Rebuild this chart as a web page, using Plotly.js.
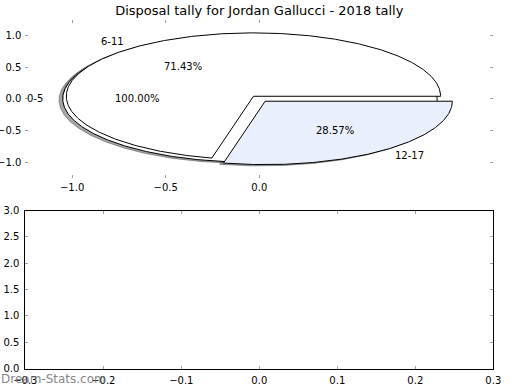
<!DOCTYPE html>
<html><head><meta charset="utf-8">
<script src="https://cdn.plot.ly/plotly-3.0.1.min.js"></script>
<style>html,body{margin:0;padding:0;background:#fff}</style>
</head><body><div id="chart" style="width:520px;height:390px"></div>
<script>
const titleText = 'Disposal tally for Jordan Gallucci - 2018 tally';
const pieALabels = ['0-5'];
const pieAValues = [7];
const pieAColors = ['#ffffff'];
const pieBLabels = ['6-11', '12-17'];
const pieBValues = [5, 2];
const pieBColors = ['#ffffff', '#e9effb'];
const pieXTicks = [-1.0, -0.5, 0.0];
const pieYTicks = [-1.0, -0.5, 0.0, 0.5, 1.0];
const emptyXTicks = [-0.3, -0.2, -0.1, 0.0, 0.1, 0.2, 0.3];
const emptyYTicks = [0.0, 0.5, 1.0, 1.5, 2.0, 2.5, 3.0];
const watermark = 'Dream-Stats.com';

const EXPLODE = 0.05, SHADOW = 0.02, LABEL_R = 1.1, PCT_R = 0.6;
const FONT = 'DejaVu Sans, sans-serif';

function wedges(values, colors, labels) {
  const total = values.reduce((a, b) => a + b, 0);
  let t = 0; const out = [];
  values.forEach((v, i) => {
    const frac = v / total;
    const t1 = t * 360, t2 = (t + frac) * 360;
    const mid = (t1 + t2) / 2 * Math.PI / 180;
    const cx = EXPLODE * Math.cos(mid), cy = EXPLODE * Math.sin(mid);
    const full = Math.abs(t2 - t1 - 360) < 1e-9;
    const n = Math.max(4, Math.ceil((t2 - t1) / 0.5));
    const xs = [], ys = [];
    if (!full) { xs.push(cx); ys.push(cy); }
    for (let k = 0; k <= n; k++) {
      const a = (t1 + (t2 - t1) * k / n) * Math.PI / 180;
      xs.push(cx + Math.cos(a)); ys.push(cy + Math.sin(a));
    }
    if (!full) { xs.push(cx); ys.push(cy); }
    out.push({ xs, ys, color: colors[i], label: labels[i], pct: frac * 100, cx, cy, mid });
    t += frac;
  });
  return out;
}

function shade(hex) {
  const r = parseInt(hex.slice(1, 3), 16), g = parseInt(hex.slice(3, 5), 16), b = parseInt(hex.slice(5, 7), 16);
  return 'rgba(' + Math.round(r * 0.3) + ',' + Math.round(g * 0.3) + ',' + Math.round(b * 0.3) + ',0.5)';
}

const wA = wedges(pieAValues, pieAColors, pieALabels);
const wB = wedges(pieBValues, pieBColors, pieBLabels);
const all = wA.concat(wB);

const traces = [];
all.forEach(w => {
  const sc = shade(w.color);
  traces.push({
    type: 'scatter', mode: 'lines', x: w.xs.map(v => v - SHADOW), y: w.ys.map(v => v - SHADOW),
    fill: 'toself', fillcolor: sc, line: { color: sc, width: 1 }, xaxis: 'x', yaxis: 'y',
    hoverinfo: 'skip', showlegend: false
  });
});
all.forEach(w => {
  traces.push({
    type: 'scatter', mode: 'lines', x: w.xs, y: w.ys,
    fill: 'toself', fillcolor: w.color, line: { color: '#000000', width: 1 }, xaxis: 'x', yaxis: 'y',
    hoverinfo: 'skip', showlegend: false
  });
});
// empty lower axes
traces.push({ type: 'scatter', mode: 'markers', x: [], y: [], xaxis: 'x2', yaxis: 'y2', showlegend: false });

const annotations = [];
all.forEach(w => {
  const lx = w.cx + LABEL_R * Math.cos(w.mid), ly = w.cy + LABEL_R * Math.sin(w.mid);
  annotations.push({
    xref: 'x', yref: 'y', x: lx, y: ly, text: w.label, showarrow: false,
    xanchor: lx > 0 ? 'left' : 'right', yanchor: 'middle', borderpad: 0,
    font: { family: FONT, size: 10, color: '#000' }
  });
  const px = w.cx + PCT_R * Math.cos(w.mid), py = w.cy + PCT_R * Math.sin(w.mid);
  annotations.push({
    xref: 'x', yref: 'y', x: px, y: py, text: w.pct.toFixed(2) + '%', showarrow: false,
    xanchor: 'center', yanchor: 'middle', borderpad: 0,
    font: { family: FONT, size: 10, color: '#000' }
  });
});
annotations.push({
  xref: 'paper', yref: 'paper', x: 0, y: (390 - 379) / 390, xanchor: 'left', yanchor: 'middle',
  text: watermark, showarrow: false, borderpad: 0,
  font: { family: FONT, size: 12, color: 'rgba(110,110,110,0.85)' }
});

const W = 520, H = 390;
const xDom = [25.3 / W, 493.3 / W];
const tickCommon = {
  ticks: 'inside', ticklen: 3, tickwidth: 1, tickcolor: '#a0a0a0', showgrid: false, zeroline: false,
  tickfont: { family: FONT, size: 10, color: '#000' }, tickformat: '.1f', fixedrange: true
};

const layout = {
  width: W, height: H, margin: { l: 0, r: 0, t: 0, b: 0 },
  paper_bgcolor: '#ffffff', plot_bgcolor: '#ffffff',
  title: { text: titleText, x: 259.3 / W, xanchor: 'center', y: 1 - 10 / H, yanchor: 'middle',
    font: { family: FONT, size: 13, color: '#000' } },
  xaxis: Object.assign({}, tickCommon, { domain: xDom, range: [-1.25, 1.25], tickvals: pieXTicks,
    anchor: 'y', showline: false, mirror: 'ticks', ticklabelstandoff: 2 }),
  yaxis: Object.assign({}, tickCommon, { domain: [(H - 178) / H, (H - 19.5) / H], range: [-1.25, 1.25],
    tickvals: pieYTicks, anchor: 'x', showline: false, mirror: 'ticks', ticklabelstandoff: 3 }),
  xaxis2: Object.assign({}, tickCommon, { domain: xDom, range: [-0.3, 0.3], tickvals: emptyXTicks,
    anchor: 'y2', showline: true, linecolor: '#000', linewidth: 1, mirror: 'ticks', ticklabelstandoff: 2 }),
  yaxis2: Object.assign({}, tickCommon, { domain: [(H - 368.7) / H, (H - 210.5) / H], range: [0, 3],
    tickvals: emptyYTicks, anchor: 'x2', showline: true, linecolor: '#000', linewidth: 1, mirror: 'ticks', ticklabelstandoff: 3 }),
  annotations: annotations
};

Plotly.newPlot('chart', traces, layout, { staticPlot: true, displayModeBar: false });
</script>
</body></html>
